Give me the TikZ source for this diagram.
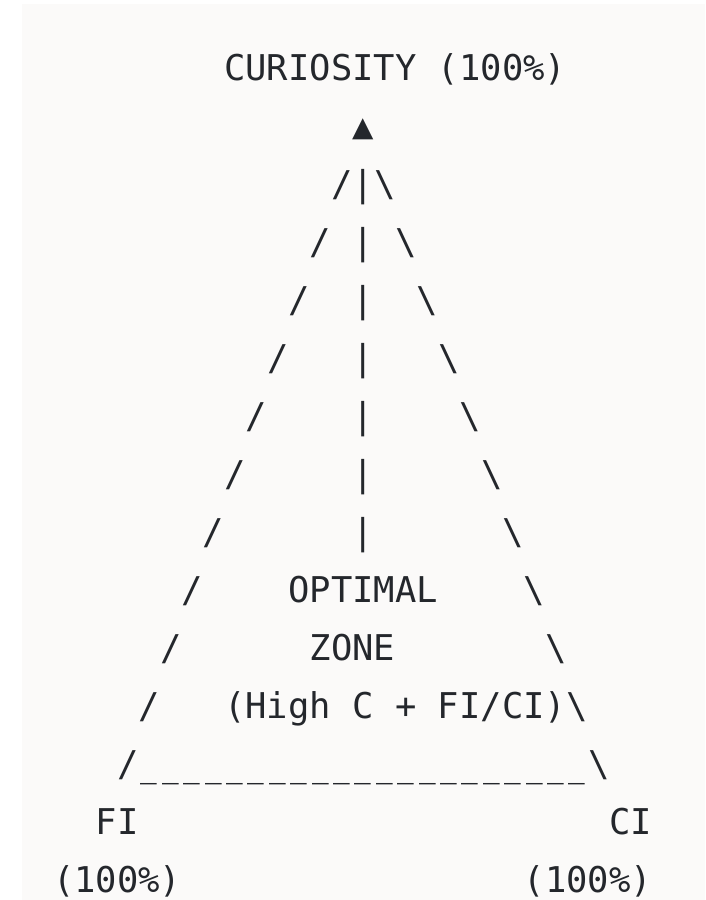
\documentclass[tikz,border=0pt]{standalone}
\usepackage{fontspec}
\setmonofont{DejaVu Sans Mono}
\definecolor{bgc}{RGB}{251,250,249}
\definecolor{ink}{RGB}{36,39,44}
\tikzset{
  t/.style={font=\ttfamily\fontsize{35.5}{40}\selectfont, text=ink, inner sep=0pt, outer sep=0pt, anchor=base west},
  us/.style={font=\ttfamily\fontsize{35.5}{40}\selectfont, text=ink, inner sep=0pt, outer sep=0pt, anchor=base, xscale=0.78},
}
\newcommand{\cx}[1]{53+21.4*(#1)}
\newcommand{\ry}[1]{80.5+58*(#1)}
\begin{document}
\begin{tikzpicture}[x=1pt,y=-1pt]
\useasboundingbox (0,0) rectangle (705,900);
\fill[white] (0,0) rectangle (705,900);
\fill[bgc] (22,4) rectangle (705,900);
% row 0
\node[t] (cur) at ({\cx{8}},{\ry{0}}) {CURIOSITY (100\%)};
% row 1
\node[t] (tri) at ({\cx{14}},{\ry{1}}) {▲};
% rows 2-8
\foreach \i in {0,...,6}{
  \node[t] (l\i) at ({\cx{13-\i}},{\ry{2+\i}}) {/};
  \node[t] (m\i) at ({\cx{14}},{\ry{2+\i}}) {|};
  \node[t] (r\i) at ({\cx{15+\i}},{\ry{2+\i}}) {\textbackslash};
}
% row 9
\node[t] (l7) at ({\cx{6}},{\ry{9}}) {/};
\node[t] (opt) at ({\cx{11}},{\ry{9}}) {OPTIMAL};
\node[t] (r7) at ({\cx{22}},{\ry{9}}) {\textbackslash};
% row 10
\node[t] (l8) at ({\cx{5}},{\ry{10}}) {/};
\node[t] (zone) at ({\cx{12}},{\ry{10}}) {ZONE};
\node[t] (r8) at ({\cx{23}},{\ry{10}}) {\textbackslash};
% row 11
\node[t] (l9) at ({\cx{4}},{\ry{11}}) {/};
\node[t] (high) at ({\cx{8}},{\ry{11}}) {(High C + FI/CI)\textbackslash};
% row 12
\node[t] (bl) at ({\cx{3}},{\ry{12}}) {/};
\foreach \k in {4,...,24}{
  \node[us] (u\k) at ({\cx{\k+0.5}},{\ry{12}}) {\_};
}
\node[t] (br) at ({\cx{25}},{\ry{12}}) {\textbackslash};
% row 13
\node[t] (fi) at ({\cx{2}},{\ry{13}}) {FI};
\node[t] (ci) at ({\cx{26}},{\ry{13}}) {CI};
% row 14
\node[t] (fip) at ({\cx{0}},{\ry{14}}) {(100\%)};
\node[t] (cip) at ({\cx{22}},{\ry{14}}) {(100\%)};
\end{tikzpicture}
\end{document}
